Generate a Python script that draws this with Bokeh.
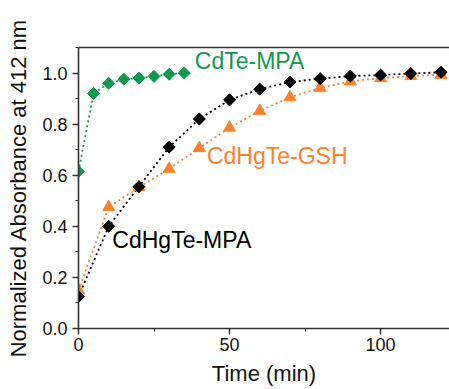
import math
from bokeh.plotting import figure
from bokeh.models import Range1d, SingleIntervalTicker, FixedTicker, LinearAxis, Label, CustomJSTickFormatter
from bokeh.embed import file_html
from bokeh.resources import INLINE

# CdTe-MPA
t_cdte = [0, 5, 10, 15, 20, 25, 30, 35]
a_cdte = [0.615, 0.92, 0.96, 0.976, 0.98, 0.987, 0.995, 1.0]

# CdHgTe-MPA
t_mpa = [0, 10, 20, 30, 40, 50, 60, 70, 80, 90, 100, 110, 120]
a_mpa = [0.125, 0.40, 0.555, 0.71, 0.82, 0.895, 0.937, 0.965, 0.978, 0.988, 0.992, 0.998, 1.003]

# CdHgTe-GSH
t_gsh = [0, 10, 20, 30, 40, 50, 60, 70, 80, 90, 100, 110, 120]
a_gsh = [0.15, 0.475, 0.553, 0.625, 0.706, 0.786, 0.852, 0.905, 0.942, 0.967, 0.98, 0.988, 0.993]

series_names = ["CdTe-MPA", "CdHgTe-MPA", "CdHgTe-GSH"]
x_label = "Time (min)"
y_label = "Normalized Absorbance at 412 nm"

GREEN = "#11994E"
ORANGE = "#F7822E"
BLACK = "#000000"
AXC = "#333333"
FONT = "Liberation Sans"

p = figure(width=449, height=389, output_backend="svg", toolbar_location=None,
           x_range=Range1d(0, 122.8), y_range=Range1d(0, 1.1),
           min_border_left=78, min_border_right=0, min_border_top=47, min_border_bottom=61,
           frame_width=371, frame_height=281)
p.outline_line_color = None
p.grid.visible = False
p.background_fill_color = "white"
p.border_fill_color = "white"

p.xaxis.ticker = SingleIntervalTicker(interval=50, num_minor_ticks=2)
p.yaxis.ticker = SingleIntervalTicker(interval=0.2, num_minor_ticks=2)
p.yaxis.formatter = CustomJSTickFormatter(code="return tick.toFixed(1);")

for ax in (p.xaxis, p.yaxis):
    ax.axis_line_color = AXC
    ax.axis_line_width = 1.6
    ax.major_tick_line_color = AXC
    ax.minor_tick_line_color = AXC
    ax.major_tick_line_width = 1.4
    ax.minor_tick_line_width = 1.2
    ax.major_tick_in = 0
    ax.major_tick_out = 6
    ax.minor_tick_in = 0
    ax.minor_tick_out = 3
    ax.major_label_text_font = FONT
    ax.major_label_text_font_size = "18px"
    ax.major_label_text_color = "#111111"
    ax.axis_label_text_font = FONT
    ax.axis_label_text_font_size = "22px"
    ax.axis_label_text_font_style = "normal"
    ax.axis_label_text_color = "#111111"

p.xaxis.axis_label = x_label
p.yaxis.axis_label = y_label
p.xaxis.major_label_standoff = 3
p.xaxis.axis_label_standoff = 7
p.yaxis.major_label_standoff = 5
p.yaxis.axis_label_standoff = 8

top = LinearAxis(ticker=FixedTicker(ticks=[]), major_tick_line_color=None,
                 minor_tick_line_color=None, axis_line_color=AXC, axis_line_width=1.6)
p.add_layout(top, "above")

dash = "2 3"
p.line(t_cdte, a_cdte, line_color=GREEN, line_width=1.8, line_dash=dash)
p.line(t_mpa, a_mpa, line_color=BLACK, line_width=1.8, line_dash=dash)
p.line(t_gsh, a_gsh, line_color=ORANGE, line_width=1.8, line_dash=dash)

p.scatter(t_cdte, a_cdte, marker="square", angle=math.pi/4, size=8.5,
          fill_color=GREEN, line_color=GREEN)
p.scatter(t_gsh, a_gsh, marker="triangle", size=12,
          fill_color=ORANGE, line_color=ORANGE)
p.scatter(t_mpa, a_mpa, marker="square", angle=math.pi/4, size=8.5,
          fill_color=BLACK, line_color=BLACK)

p.add_layout(Label(x=38.5, y=1.047, text=series_names[0], text_color=GREEN,
                   text_font=FONT, text_font_size="23px", text_baseline="middle"))
p.add_layout(Label(x=11.2, y=0.345, text=series_names[1], text_color=BLACK,
                   text_font=FONT, text_font_size="23px", text_baseline="middle"))
p.add_layout(Label(x=42.5, y=0.674, text=series_names[2], text_color=ORANGE,
                   text_font=FONT, text_font_size="23px", text_baseline="middle"))

open("out.html", "w").write(file_html(p, INLINE))
